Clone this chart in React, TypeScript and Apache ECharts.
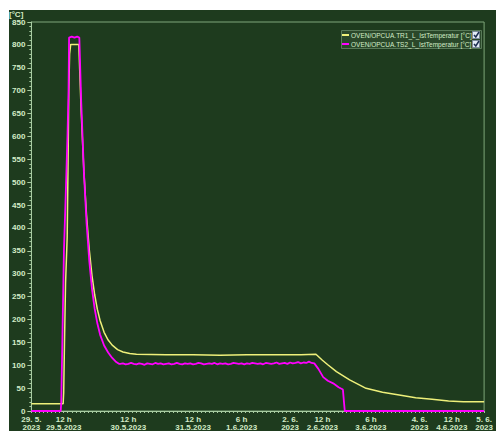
import React, { useEffect, useRef } from "react";
import * as echarts from "echarts";

// Hours since 29.5.2023 00:00
const X_LABEL_HOURS = [0, 12, 36, 60, 78, 96, 108, 126, 144, 156, 168];
const X_LABEL_TEXTS = [
  "29. 5.\n2023",
  "12 h\n29.5.2023",
  "12 h\n30.5.2023",
  "12 h\n31.5.2023",
  "6 h\n1.6.2023",
  "2. 6.\n2023",
  "12 h\n2.6.2023",
  "6 h\n3.6.2023",
  "4. 6.\n2023",
  "12 h\n4.6.2023",
  "5. 6.\n2023",
];

const SERIES_NAMES = [
  "OVEN/OPCUA.TR1_L_IstTemperatur [°C]",
  "OVEN/OPCUA.TS2_L_IstTemperatur [°C]",
];

// TR1 (yellow): [hour, °C]
const TR1: number[][] = [
  [0, 16], [11.8, 16], [12.0, 40], [12.3, 150], [12.7, 280], [13.3, 380],
  [13.6, 530], [13.9, 700], [14.2, 780], [14.6, 801], [17.6, 801],
  [18.5, 652], [19.5, 523], [20.5, 426], [21.5, 352], [22.5, 296],
  [23.5, 254], [24.5, 222], [25.5, 198], [27, 172], [28.5, 155], [30, 144],
  [32, 134], [34, 129], [36.5, 125.5], [39, 124],
  [50, 123], [60, 123], [70, 122], [80, 123], [90, 123], [100, 123],
  [105.6, 124], [108, 111], [110, 101], [113.2, 86], [118.1, 68],
  [124.2, 49.5], [130.3, 41], [136.5, 35], [142.6, 29], [148.7, 25.5],
  [154.8, 22], [160.3, 20], [168, 20],
];

// TS2 (magenta) rise and fall
const TS2_START: number[][] = [
  [0, 0], [10.9, 0], [11.1, 20], [11.5, 150], [12.1, 352], [12.8, 480],
  [13.4, 600], [13.8, 700], [14.0, 816], [15, 818], [16, 816], [17, 818],
  [17.8, 816], [18.5, 676], [19.5, 522], [20.5, 410], [21.5, 328],
  [22.5, 267], [23.5, 223], [24.5, 191], [25.5, 167], [27, 143],
  [28.5, 128], [30, 116], [31.5, 107], [32.5, 103],
];
// TS2 plateau, hourly from 33 h
const TS2_PLATEAU_START = 33;
const TS2_PLATEAU: number[] = [
  103, 104, 102, 103, 105, 103, 102, 104, 103, 101, 104, 103, 102, 105, 103,
  104, 102, 103, 104, 102, 103, 105, 103, 102, 104, 103, 104, 102, 103, 105,
  104, 102, 103, 104, 103, 105, 102, 104, 103, 104, 102, 103, 105, 104, 103,
  104, 102, 104, 103, 105, 104, 103, 104, 102, 105, 104, 103, 104, 106, 103,
  104, 105, 103, 106, 104, 105, 107, 104, 106, 105, 108, 105, 104,
];
const TS2_END: number[][] = [
  [106.5, 92], [108.3, 74], [110, 66], [112, 60.5], [114, 52], [115.6, 47],
  [116.0, 20], [116.3, 0], [168, 0],
];

const BG = "#1e3b1e";
const FRAME = "#7ea67a";
const TEXT = "#d4ecc8";
const YELLOW = "#eef07a";
const MAGENTA = "#ff00ff";
const FONT = "Liberation Sans, Arial, sans-serif";

export default function App() {
  const ref = useRef<HTMLDivElement>(null);
  useEffect(() => {
    const chart = echarts.init(ref.current!, null, { renderer: "svg" });
    const ts2 = [
      ...TS2_START,
      ...TS2_PLATEAU.map((v, i) => [TS2_PLATEAU_START + i, v]),
      ...TS2_END,
    ];
    const minorTicks: number[] = [];
    for (let h = 0; h <= 168; h += 1.5) minorTicks.push(h);

    const legendRow = (i: number, y: number, color: string) => [
      {
        type: "line",
        shape: { x1: 333, y1: y, x2: 340, y2: y },
        style: { stroke: color, lineWidth: 2 },
      },
      {
        type: "text",
        x: 342,
        y: y,
        style: {
          text: SERIES_NAMES[i],
          fill: TEXT,
          font: `6.5px ${FONT}`,
          textVerticalAlign: "middle",
          verticalAlign: "middle",
        },
      },
      {
        type: "rect",
        shape: { x: 463.5, y: y - 3.5, width: 7, height: 7 },
        style: { fill: "#e4ecf6", stroke: "#7c8a9a", lineWidth: 1 },
      },
      {
        type: "polyline",
        shape: { points: [[465, y], [466.8, y + 2], [470, y - 3]] },
        style: { stroke: "#1c2c50", lineWidth: 1.5, fill: "none" },
      },
    ];

    chart.setOption({
      animation: false,
      backgroundColor: BG,
      grid: {
        left: 19,
        right: 10,
        top: 12,
        bottom: 20,
        show: true,
        borderColor: FRAME,
        borderWidth: 1,
        backgroundColor: BG,
      },
      xAxis: {
        type: "value",
        min: 0,
        max: 168,
        axisLine: { show: true, lineStyle: { color: "#a8cca2", width: 1 } },
        axisTick: {
          show: true,
          customValues: minorTicks,
          length: 2,
          lineStyle: { color: "#a8cca2" },
        },
        splitLine: { show: false },
        axisLabel: {
          customValues: X_LABEL_HOURS,
          formatter: (v: number) => {
            const i = X_LABEL_HOURS.indexOf(v);
            return i >= 0 ? X_LABEL_TEXTS[i] : "";
          },
          color: TEXT,
          fontFamily: FONT,
          fontWeight: "bold",
          fontSize: 8,
          lineHeight: 8,
          margin: 4,
          hideOverlap: false,
        },
      },
      yAxis: {
        type: "value",
        min: 0,
        max: 850,
        interval: 50,
        axisLine: { show: true, lineStyle: { color: "#a8cca2", width: 1 } },
        axisTick: { show: true, length: 4, lineStyle: { color: "#a8cca2" } },
        minorTick: {
          show: true,
          splitNumber: 5,
          length: 2,
          lineStyle: { color: "#a8cca2" },
        },
        splitLine: { show: false },
        axisLabel: {
          color: TEXT,
          fontFamily: FONT,
          fontWeight: "bold",
          fontSize: 8,
          lineHeight: 7,
          margin: 6,
        },
      },
      graphic: [
        {
          type: "text",
          x: 0,
          y: 0,
          style: {
            text: "[°C]",
            fill: TEXT,
            font: `bold 8px ${FONT}`,
          },
        },
        {
          type: "rect",
          shape: { x: 332.5, y: 20.5, width: 140, height: 18 },
          style: { fill: "#2a482a", stroke: "#587a58", lineWidth: 1 },
        },
        ...legendRow(0, 25, YELLOW),
        ...legendRow(1, 34, MAGENTA),
      ],
      series: [
        {
          name: SERIES_NAMES[0],
          type: "line",
          data: TR1,
          symbol: "none",
          lineStyle: { color: YELLOW, width: 1.5 },
          itemStyle: { color: YELLOW },
        },
        {
          name: SERIES_NAMES[1],
          type: "line",
          data: ts2,
          symbol: "none",
          lineStyle: { color: MAGENTA, width: 1.8 },
          itemStyle: { color: MAGENTA },
        },
      ],
    });
    return () => chart.dispose();
  }, []);
  return (
    <div
      ref={ref}
      style={{ position: "absolute", left: 9, top: 10, width: 487, height: 421 }}
    />
  );
}
